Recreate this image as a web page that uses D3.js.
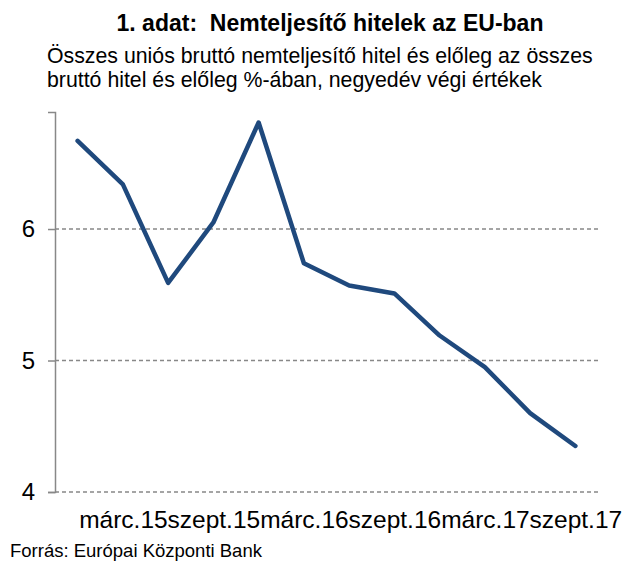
<!DOCTYPE html>
<html>
<head>
<meta charset="utf-8">
<script src="https://cdn.jsdelivr.net/npm/d3@7"></script>
<style>
  body { margin: 0; background: #fff; }
  text { font-family: "Liberation Sans", Arial, sans-serif; fill: #000; }
</style>
</head>
<body>
<div id="chart"></div>
<script>
// quarterly NPL ratio, end of quarter values
const categories = ["dec.14", "márc.15", "jún.15", "szept.15", "dec.15", "márc.16",
  "jún.16", "szept.16", "dec.16", "márc.17", "jún.17", "szept.17"];
const values = [6.67, 6.34, 5.59, 6.05, 6.81, 5.74, 5.57, 5.51, 5.19, 4.95, 4.60, 4.35];
const yTicks = [4, 5, 6];
const xTickLabels = ["márc.15", "szept.15", "márc.16", "szept.16", "márc.17", "szept.17"];

const W = 622, H = 562;
const plotL = 55, plotR = 598, plotT = 112, plotB = 492;

const svg = d3.select("#chart").append("svg")
  .attr("width", W)
  .attr("height", H);

// titles
svg.append("text")
  .attr("x", 330).attr("y", 31)
  .attr("text-anchor", "middle")
  .style("font-size", "23px")
  .style("font-weight", "bold")
  .style("white-space", "pre")
  .text("1. adat:  Nemteljesítő hitelek az EU-ban");

const sub = ["Összes uniós bruttó nemteljesítő hitel és előleg az összes",
  "bruttó hitel és előleg %-ában, negyedév végi értékek"];
svg.selectAll(".sub")
  .data(sub)
  .enter()
  .append("text")
  .attr("class", "sub")
  .attr("x", 47)
  .attr("y", (d, i) => 63 + i * 24)
  .style("font-size", "21.3px")
  .text(d => d);

const x = d3.scalePoint().domain(categories).range([plotL, plotR]).padding(0.5);
const y = d3.scaleLinear().domain([4, 6.89]).range([plotB, plotT]);

// grid lines
svg.selectAll(".grid")
  .data(yTicks)
  .enter()
  .append("line")
  .attr("class", "grid")
  .attr("x1", plotL).attr("x2", plotR)
  .attr("y1", d => y(d)).attr("y2", d => y(d))
  .attr("stroke", "#888")
  .attr("stroke-width", 1.5)
  .attr("stroke-dasharray", "4,3");

// y axis
const yAxis = svg.append("g")
  .attr("transform", `translate(${plotL},0)`)
  .call(d3.axisLeft(y).tickValues(yTicks).tickSize(7).tickPadding(13).tickFormat(d3.format("d")));
yAxis.select(".domain").attr("stroke", "#888").attr("stroke-width", 1.5);
yAxis.selectAll(".tick line").attr("stroke", "#888").attr("stroke-width", 1.5);
yAxis.selectAll(".tick text")
  .style("font-size", "24px")
  .style("font-family", "Liberation Sans, Arial, sans-serif")
  .attr("fill", "#000");

// x axis labels
const xAxis = svg.append("g")
  .attr("transform", `translate(0,${plotB})`)
  .call(d3.axisBottom(x).tickValues(xTickLabels).tickSize(0).tickPadding(18.5));
xAxis.select(".domain").remove();
xAxis.selectAll(".tick text")
  .style("font-size", "24.5px")
  .style("font-family", "Liberation Sans, Arial, sans-serif")
  .attr("fill", "#000");

// the line
const line = d3.line()
  .x((d, i) => x(categories[i]))
  .y(d => y(d));
svg.append("path")
  .datum(values)
  .attr("d", line)
  .attr("fill", "none")
  .attr("stroke", "#1f497d")
  .attr("stroke-width", 4.5)
  .attr("stroke-linejoin", "round")
  .attr("stroke-linecap", "round");

svg.append("text")
  .attr("x", 10).attr("y", 557)
  .style("font-size", "18.5px")
  .text("Forrás: Európai Központi Bank");
</script>
</body>
</html>
